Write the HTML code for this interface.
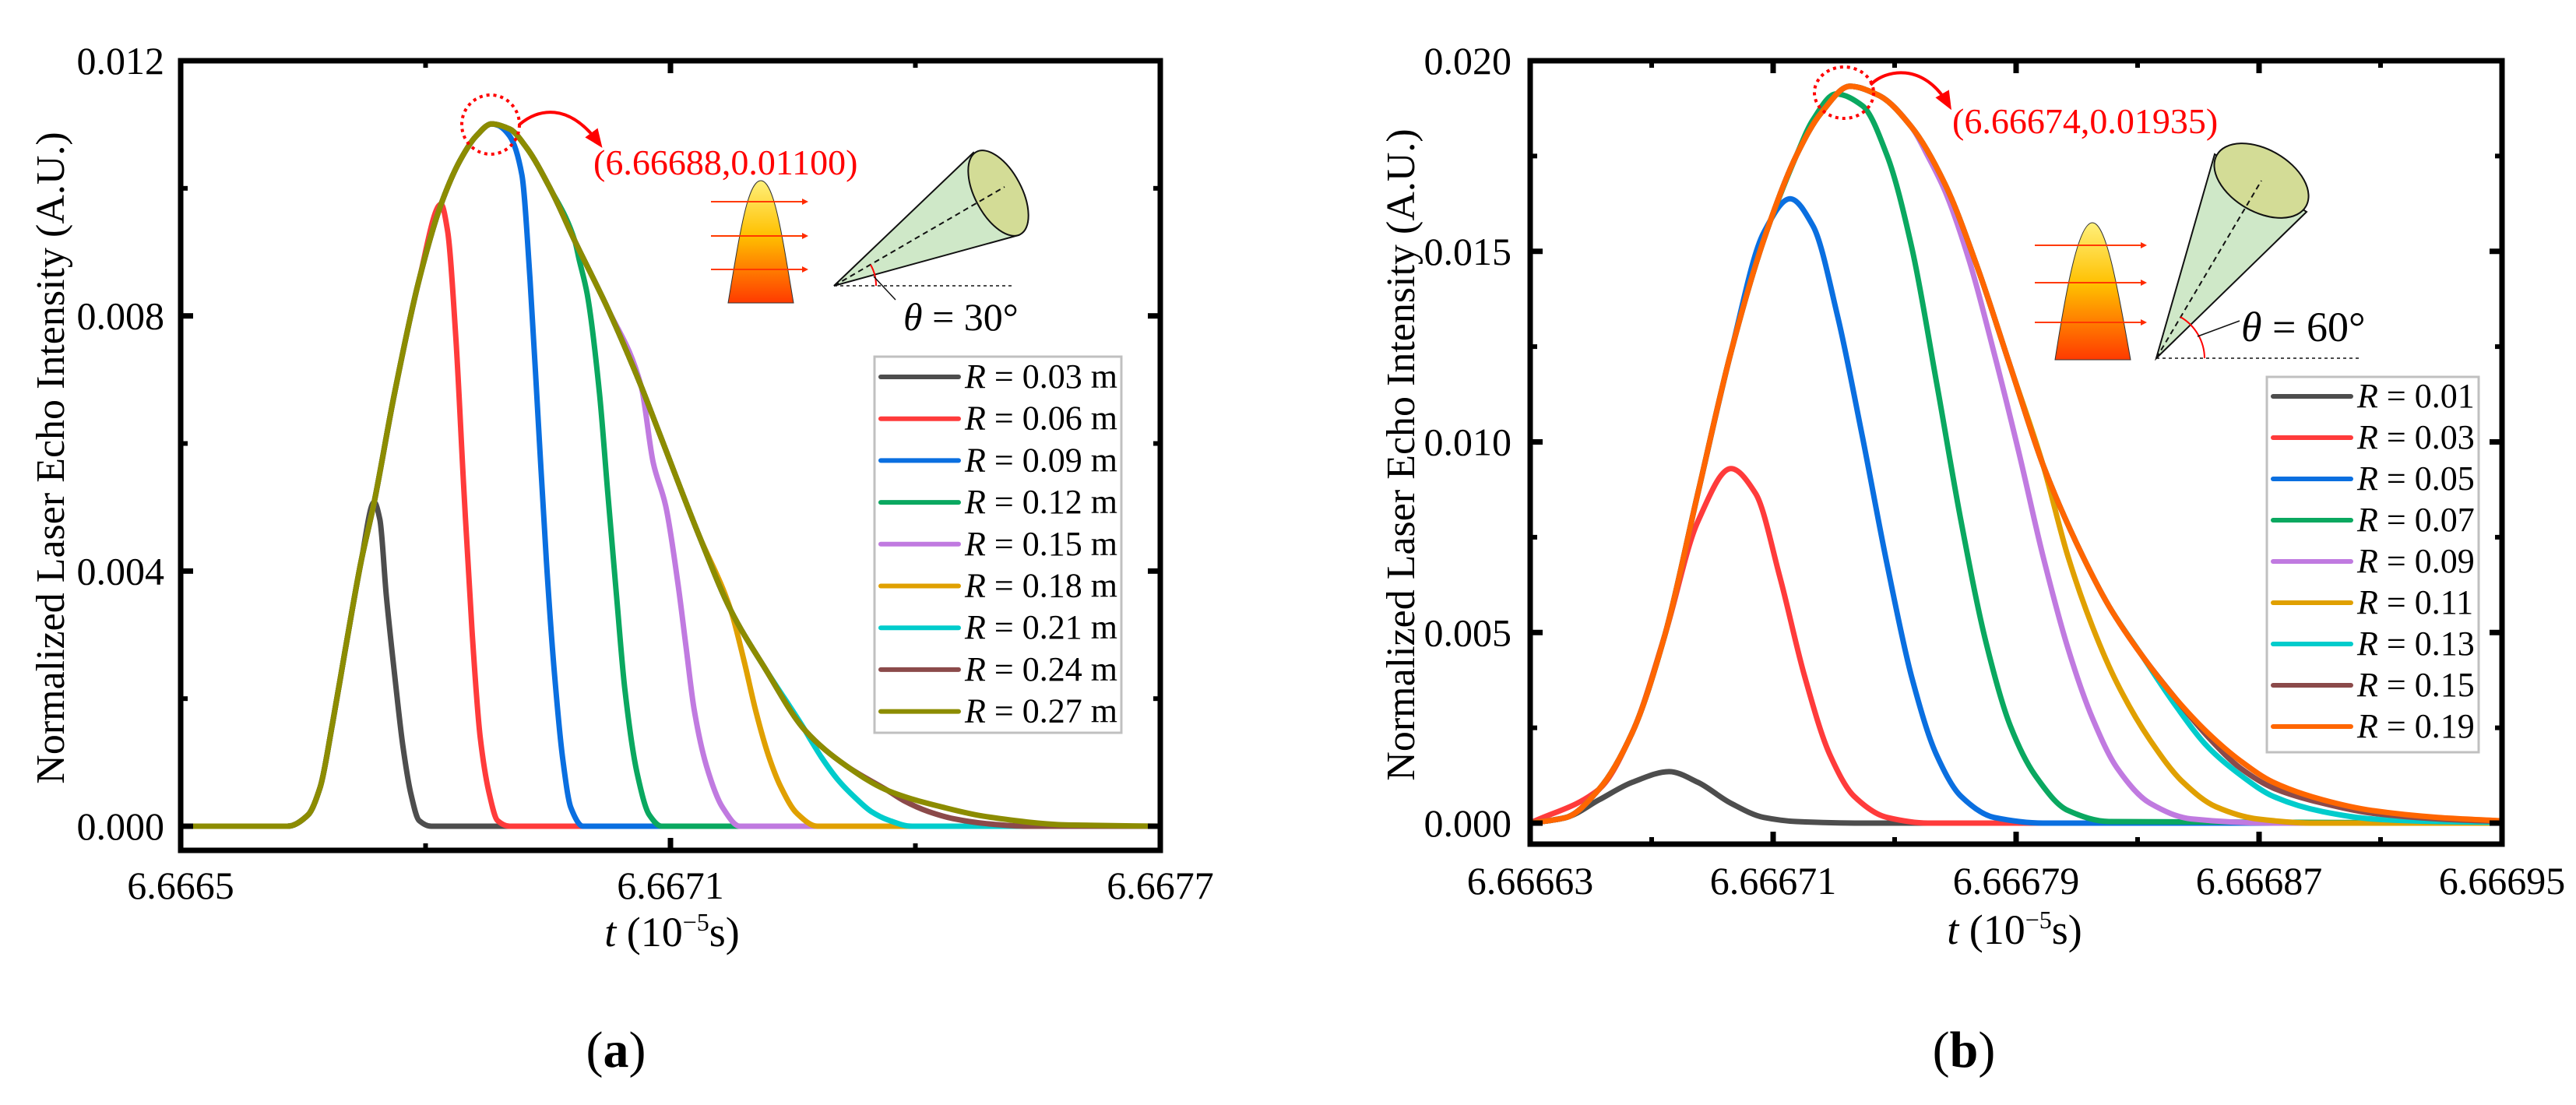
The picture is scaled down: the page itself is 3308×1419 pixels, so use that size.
<!DOCTYPE html>
<html><head><meta charset="utf-8">
<style>
html,body{margin:0;padding:0;background:#fff;}
svg, svg text{font-family:"Liberation Serif","Times New Roman",serif;}
</style></head>
<body>
<svg id="fig" width="3308" height="1414" viewBox="0 0 3308 1414" xmlns="http://www.w3.org/2000/svg" font-family="Liberation Serif, serif">
<defs>
<linearGradient id="beamGrad" x1="0" y1="0" x2="0" y2="1">
<stop offset="0" stop-color="#fff07a"/><stop offset="0.45" stop-color="#ffc000"/><stop offset="1" stop-color="#ff3a00"/>
</linearGradient>
<marker id="arrHead" markerWidth="8" markerHeight="8" refX="6" refY="4" orient="auto" markerUnits="userSpaceOnUse" viewBox="0 0 8 8"><path d="M0,0 L8,4 L0,8 z" fill="#ff2a00"/></marker>
<marker id="arrBig" markerWidth="24" markerHeight="24" refX="18" refY="12" orient="auto" markerUnits="userSpaceOnUse" viewBox="0 0 24 24"><path d="M0,2 L24,12 L0,22 z" fill="#ff0000"/></marker>
</defs>
<g id="chartA"></g>
<g id="chartB"></g>

<g>
<path d="M935,389 C950,300 960,232 977,232 C994,232 1004,300 1019,389 Z" fill="url(#beamGrad)" stroke="#333" stroke-width="1"/>
<line x1="913" y1="259" x2="1036" y2="259" stroke="#ff3a00" stroke-width="2" marker-end="url(#arrHead)"/>
<line x1="913" y1="303" x2="1036" y2="303" stroke="#ff3a00" stroke-width="2" marker-end="url(#arrHead)"/>
<line x1="913" y1="346" x2="1036" y2="346" stroke="#ff3a00" stroke-width="2" marker-end="url(#arrHead)"/>
<path d="M1071,367 L1250,196 L1308,302 Z" fill="#cfe8c8" stroke="#111" stroke-width="2"/>
<ellipse cx="1282" cy="248" rx="30" ry="60" transform="rotate(-28 1282 248)" fill="#d3dc96" stroke="#111" stroke-width="2"/>
<line x1="1071" y1="367" x2="1290" y2="240" stroke="#111" stroke-width="2" stroke-dasharray="7,5"/>
<line x1="1071" y1="367" x2="1300" y2="367" stroke="#111" stroke-width="1.5" stroke-dasharray="4,4"/>
<path d="M1125,367 A54,54 0 0 0 1118,340" fill="none" stroke="#ff0000" stroke-width="2"/>
<line x1="1122" y1="355" x2="1150" y2="385" stroke="#111" stroke-width="1.5"/>
<text x="1160" y="424" font-size="50" font-family="Liberation Serif, serif"><tspan font-style="italic">θ</tspan> = 30°</text>
</g>
<g>
<ellipse cx="630" cy="160" rx="37" ry="38" fill="none" stroke="#ff0000" stroke-width="4" stroke-dasharray="4,5"/>
<path d="M667,160 C690,140 730,130 770,185" fill="none" stroke="#ff0000" stroke-width="4" marker-end="url(#arrBig)"/>
<text x="762" y="224" font-size="46" fill="#ff0000" font-family="Liberation Serif, serif">(6.66688,0.01100)</text>
</g>

<g>
<path d="M2639,462 C2655,360 2670,286 2687,286 C2704,286 2718,360 2736,462 Z" fill="url(#beamGrad)" stroke="#333" stroke-width="1"/>
<line x1="2613" y1="315" x2="2755" y2="315" stroke="#ff3a00" stroke-width="2" marker-end="url(#arrHead)"/>
<line x1="2613" y1="363" x2="2755" y2="363" stroke="#ff3a00" stroke-width="2" marker-end="url(#arrHead)"/>
<line x1="2613" y1="414" x2="2755" y2="414" stroke="#ff3a00" stroke-width="2" marker-end="url(#arrHead)"/>
<path d="M2769,460 L2844,198 L2962,272 Z" fill="#cfe8c8" stroke="#111" stroke-width="2"/>
<ellipse cx="2904" cy="232" rx="66" ry="40" transform="rotate(30 2904 232)" fill="#d3dc96" stroke="#111" stroke-width="2"/>
<line x1="2769" y1="460" x2="2904" y2="232" stroke="#111" stroke-width="2" stroke-dasharray="7,5"/>
<line x1="2769" y1="460" x2="3032" y2="460" stroke="#111" stroke-width="1.5" stroke-dasharray="4,4"/>
<path d="M2831,460 A62,62 0 0 0 2800,407" fill="none" stroke="#ff0000" stroke-width="2"/>
<line x1="2822" y1="432" x2="2876" y2="412" stroke="#111" stroke-width="1.5"/>
<text x="2878" y="438" font-size="54" font-family="Liberation Serif, serif"><tspan font-style="italic">θ</tspan> = 60°</text>
</g>
<g>
<ellipse cx="2368" cy="119" rx="38" ry="33" fill="none" stroke="#ff0000" stroke-width="4" stroke-dasharray="4,5"/>
<path d="M2402,109 C2420,90 2470,78 2503,136" fill="none" stroke="#ff0000" stroke-width="4" marker-end="url(#arrBig)"/>
<text x="2507" y="171" font-size="46" fill="#ff0000" font-family="Liberation Serif, serif">(6.66674,0.01935)</text>
</g>

<text x="791" y="1370" font-size="66" text-anchor="middle" font-family="Liberation Serif, serif">(<tspan font-weight="bold">a</tspan>)</text>
<text x="2522" y="1370" font-size="66" text-anchor="middle" font-family="Liberation Serif, serif">(<tspan font-weight="bold">b</tspan>)</text>
</svg>

<script>
// ---------- Chart A data ----------
const aTicksX = ["6.6665", "6.6671", "6.6677"];
const aTickXVals = [6.6665, 6.6671, 6.6677];
const aTicksY = ["0.000", "0.004", "0.008", "0.012"];
const aTickYVals = [0, 0.004, 0.008, 0.012];
const aLabels = ["0.03", "0.06", "0.09", "0.12", "0.15", "0.18", "0.21", "0.24", "0.27"];
const aEnvT = [6.66650,6.666631,6.666656,6.666671,6.666686,6.666701,6.666721,6.666737,6.666762,6.666792,6.666819,6.666842,6.666862,6.666881,6.666903,6.666923,6.666953,6.666983,6.667023,6.667064,6.667084,6.667134,6.667174,6.667215,6.667265,6.667315,6.667366,6.667436,6.667487,6.667587,6.667700];
const aEnvV = [0,0,0.000176,0.000618,0.00161,0.00272,0.00415,0.00508,0.00679,0.00856,0.00975,0.01043,0.01082,0.01101,0.01093,0.01065,0.00999,0.00917,0.00812,0.00690,0.00624,0.00459,0.00338,0.00249,0.00150,0.00095,0.00056,0.00029,0.00015,0.00002,0];
const aTail0T = [6.666737,6.666744,6.666752,6.666762,6.666772,6.666782,6.666792,6.666807,6.6677];
const aTail0V = [0.00508,0.00481,0.00360,0.00238,0.00128,0.00051,0.00009,0,0];
const aTail1T = [6.666819,6.666827,6.666837,6.666847,6.666857,6.666867,6.666878,6.666888,6.666903,6.6677];
const aTail1V = [0.00975,0.00933,0.00767,0.00525,0.00304,0.00139,0.00051,0.00009,0,0];
const aTail2T = [6.666888,6.666903,6.666918,6.666928,6.666938,6.666948,6.666958,6.666968,6.666978,6.666993,6.6677];
const aTail2V = [0.01099,0.01082,0.01021,0.00856,0.00635,0.00415,0.00238,0.00106,0.00029,0,0];
const aTail3T = [6.666988,6.666998,6.667013,6.667023,6.667034,6.667044,6.667059,6.667074,6.667089,6.6677];
const aTail3V = [0.00889,0.00834,0.00679,0.00525,0.00360,0.00216,0.00084,0.00018,0,0];
const aTail4T = [6.667079,6.667094,6.667109,6.667119,6.667129,6.667144,6.667164,6.667185,6.6677];
const aTail4V = [0.00569,0.00503,0.00382,0.00282,0.00183,0.00095,0.00029,0,0];
const aTail5T = [6.667174,6.667190,6.667205,6.667220,6.667235,6.667255,6.667280,6.6677];
const aTail5V = [0.00338,0.00260,0.00178,0.00111,0.00062,0.00020,0,0];
const aTail6T = [6.667270,6.667285,6.667305,6.667326,6.667346,6.667366,6.667396,6.6677];
const aTail6V = [0.00139,0.00108,0.00073,0.00045,0.00023,0.00010,0,0];
const aTail7T = [6.667366,6.667386,6.667416,6.667446,6.667487,6.667537,6.6677];
const aTail7V = [0.00056,0.00040,0.00023,0.00012,0.00004,0,0];

// ---------- Chart B data ----------
const bTicksX = ["6.66663", "6.66671", "6.66679", "6.66687", "6.66695"];
const bTickXVals = [6.66663, 6.66671, 6.66679, 6.66687, 6.66695];
const bTicksY = ["0.000", "0.005", "0.010", "0.015", "0.020"];
const bTickYVals = [0, 0.005, 0.010, 0.015, 0.020];
const bLabels = ["0.01", "0.03", "0.05", "0.07", "0.09", "0.11", "0.13", "0.15", "0.19"];
const bEnvT = [6.6666300,6.6666419,6.6666527,6.6666636,6.6666744,6.6666852,6.6666961,6.6667069,6.6667177,6.6667258,6.6667353,6.6667448,6.6667556,6.6667665,6.6667773,6.6667881,6.6667989,6.6668098,6.6668206,6.6668314,6.6668423,6.6668531,6.6668639,6.6668747,6.6668910,6.6669072,6.6669289,6.66695];
const bEnvV = [0,0.00015,0.00089,0.00237,0.00495,0.00865,0.01235,0.01530,0.01752,0.01863,0.01933,0.01909,0.01826,0.01678,0.01457,0.01198,0.00939,0.00736,0.00569,0.00440,0.00329,0.00237,0.00163,0.00107,0.00061,0.00033,0.00015,0.00006];
const bTail0T = [6.6666300,6.6666419,6.6666527,6.6666636,6.6666758,6.6666852,6.6666961,6.6667069,6.6667177,6.6667394,6.66695];
const bTail0V = [0,0.00015,0.00061,0.00107,0.00135,0.00107,0.00052,0.00015,0.00004,0,0];
const bTail1T = [6.6666300,6.6666527,6.6666636,6.6666744,6.6666852,6.6666961,6.6667042,6.6667123,6.6667204,6.6667286,6.6667367,6.6667475,6.6667610,6.66695];
const bTail1V = [0,0.00089,0.00237,0.00495,0.00791,0.00930,0.00865,0.00643,0.00384,0.00181,0.00070,0.00015,0,0];
const bTail2T = [6.6666961,6.6667069,6.6667156,6.6667231,6.6667313,6.6667394,6.6667475,6.6667556,6.6667637,6.6667719,6.6667827,6.6667989,6.66695];
const bTail2V = [0.01235,0.01549,0.01638,0.01567,0.01327,0.01013,0.00680,0.00384,0.00181,0.00070,0.00015,0,0];
const bTail3T = [6.6667231,6.6667307,6.6667394,6.6667475,6.6667556,6.6667637,6.6667719,6.6667800,6.6667881,6.6667962,6.6668071,6.6668206,6.66695];
const bTail3V = [0.01845,0.01913,0.01882,0.01752,0.01512,0.01161,0.00791,0.00477,0.00255,0.00126,0.00033,0.00004,0];
const bTail4T = [6.6667610,6.6667665,6.6667746,6.6667827,6.6667908,6.6667989,6.6668071,6.6668152,6.6668233,6.6668341,6.6668477,6.6668747,6.66695];
const bTail4V = [0.01749,0.01660,0.01475,0.01235,0.00976,0.00699,0.00458,0.00274,0.00144,0.00052,0.00011,0,0];
const bTail5T = [6.6667989,6.6668071,6.6668152,6.6668233,6.6668341,6.6668450,6.6668558,6.6668693,6.6668883,6.66695];
const bTail5V = [0.00939,0.00699,0.00514,0.00366,0.00218,0.00107,0.00043,0.00011,0,0];
const bTail6T = [6.6668314,6.6668423,6.6668531,6.6668639,6.6668747,6.6668910,6.6669072,6.6669289,6.66695];
const bTail6V = [0.00440,0.00311,0.00200,0.00126,0.00070,0.00030,0.00011,0.00004,0.00002];
const bTail7T = [6.6668531,6.6668639,6.6668747,6.6668910,6.6669072,6.6669289,6.66695];
const bTail7V = [0.00227,0.00144,0.00092,0.00052,0.00026,0.00011,0.00004];

const colorsA = ["#4d4d4d","#ff3b3b","#0a6fe0","#0aa860","#c07ae0","#e0a000","#00cccc","#8b4a4a","#8c8c00"];
const colorsB = ["#4d4d4d","#ff3b3b","#0a6fe0","#0aa860","#c07ae0","#e0a000","#00cccc","#8b4a4a","#ff6600"];

const NS = "http://www.w3.org/2000/svg";
const FONT = "Liberation Serif, serif";
function mk(tag, attrs, parent) {
  const e = document.createElementNS(NS, tag);
  for (const k in attrs) e.setAttribute(k, attrs[k]);
  parent.appendChild(e);
  return e;
}
// monotone cubic (Fritsch-Carlson) path through points sorted by x
function monoPath(pts) {
  const n = pts.length;
  const dx = [], sl = [];
  for (let i = 0; i < n - 1; i++) {
    dx.push(pts[i + 1][0] - pts[i][0]);
    sl.push((pts[i + 1][1] - pts[i][1]) / dx[i]);
  }
  const m = new Array(n);
  m[0] = sl[0]; m[n - 1] = sl[n - 2];
  for (let i = 1; i < n - 1; i++) {
    if (sl[i - 1] * sl[i] <= 0) m[i] = 0;
    else {
      const w1 = 2 * dx[i] + dx[i - 1], w2 = dx[i] + 2 * dx[i - 1];
      m[i] = (w1 + w2) / (w1 / sl[i - 1] + w2 / sl[i]);
    }
  }
  let d = "M" + pts[0][0].toFixed(1) + "," + pts[0][1].toFixed(1);
  for (let i = 0; i < n - 1; i++) {
    const h = dx[i] / 3;
    d += " C" + (pts[i][0] + h).toFixed(1) + "," + (pts[i][1] + m[i] * h).toFixed(1) + " " +
      (pts[i + 1][0] - h).toFixed(1) + "," + (pts[i + 1][1] - m[i + 1] * h).toFixed(1) + " " +
      pts[i + 1][0].toFixed(1) + "," + pts[i + 1][1].toFixed(1);
  }
  return d;
}

function drawChart(cfg) {
  const g = document.getElementById(cfg.id);
  const xs = t => cfg.x0 + (t - cfg.t0) / (cfg.t1 - cfg.t0) * (cfg.x1 - cfg.x0);
  const ys = v => cfg.yZero + v / cfg.vMax * (cfg.yTop - cfg.yZero);
  const sg = mk("g", {}, g);
  
  
  const tails = cfg.tails;
  for (let i = 0; i < 9; i++) {
    let T, V;
    if (i < 8) {
      const tt = tails[i][0], vv = tails[i][1];
      T = []; V = [];
      for (let k = 0; k < cfg.envT.length; k++) if (cfg.envT[k] < tt[0]) { T.push(cfg.envT[k]); V.push(cfg.envV[k]); }
      T = T.concat(tt); V = V.concat(vv);
    } else { T = cfg.envT; V = cfg.envV; }
    const pts = T.map((t, k) => [xs(t), ys(V[k])]);
    const p = mk("path", { d: monoPath(pts), fill: "none", stroke: cfg.colors[i], "stroke-width": 7, "stroke-linejoin": "round", "stroke-linecap": "butt" }, sg);
    
    
  }
  const fr = mk("rect", { x: cfg.x0, y: cfg.yTop, width: cfg.x1 - cfg.x0, height: cfg.yBot - cfg.yTop, fill: "none", stroke: "#000", "stroke-width": 7 }, g);
  
  
  const tg = mk("g", {}, g);
  
  
  const xv = cfg.xTickVals;
  for (let i = 0; i < xv.length; i++) {
    const x = xs(xv[i]);
    mk("line", { x1: x, y1: cfg.yBot, x2: x, y2: cfg.yBot - 16, stroke: "#000", "stroke-width": 7 }, tg);
    mk("line", { x1: x, y1: cfg.yTop, x2: x, y2: cfg.yTop + 16, stroke: "#000", "stroke-width": 7 }, tg);
    if (i < xv.length - 1) {
      const xm = xs((xv[i] + xv[i + 1]) / 2);
      mk("line", { x1: xm, y1: cfg.yBot, x2: xm, y2: cfg.yBot - 9, stroke: "#000", "stroke-width": 6 }, tg);
      mk("line", { x1: xm, y1: cfg.yTop, x2: xm, y2: cfg.yTop + 9, stroke: "#000", "stroke-width": 6 }, tg);
    }
    const tx = mk("text", { x: x, y: cfg.xLabelY, "font-size": 50, "text-anchor": "middle", "font-family": FONT }, g);
    tx.textContent = cfg.xTicks[i];
    
    
  }
  const yv = cfg.yTickVals;
  for (let i = 0; i < yv.length; i++) {
    const y = ys(yv[i]);
    mk("line", { x1: cfg.x0, y1: y, x2: cfg.x0 + 16, y2: y, stroke: "#000", "stroke-width": 7 }, tg);
    mk("line", { x1: cfg.x1, y1: y, x2: cfg.x1 - 16, y2: y, stroke: "#000", "stroke-width": 7 }, tg);
    if (i < yv.length - 1) {
      const ym = ys((yv[i] + yv[i + 1]) / 2);
      mk("line", { x1: cfg.x0, y1: ym, x2: cfg.x0 + 9, y2: ym, stroke: "#000", "stroke-width": 6 }, tg);
      mk("line", { x1: cfg.x1, y1: ym, x2: cfg.x1 - 9, y2: ym, stroke: "#000", "stroke-width": 6 }, tg);
    }
    const ty = mk("text", { x: cfg.yLabelX, y: y + 17, "font-size": 50, "text-anchor": "end", "font-family": FONT }, g);
    ty.textContent = cfg.yTicks[i];
    
    
  }
  const yt = mk("text", { x: 0, y: 0, "font-size": 52, "text-anchor": "middle", "font-family": FONT, transform: "translate(" + cfg.yTitleX + "," + cfg.yTitleY + ") rotate(-90)" }, g);
  yt.textContent = "Normalized Laser Echo Intensity (A.U.)";
  
  
  const xt = mk("text", { x: cfg.xTitleX, y: cfg.xTitleY, "font-size": 54, "text-anchor": "middle", "font-family": FONT }, g);
  xt.innerHTML = '<tspan font-style="italic">t</tspan> (10<tspan font-size="32" dy="-20">−5</tspan><tspan dy="20">s)</tspan>';
  
  
  const lg = mk("g", {}, g);
  
  
  mk("rect", { x: cfg.lgX, y: cfg.lgY, width: cfg.lgW, height: cfg.lgH, fill: "#fff", stroke: "#c0c0c0", "stroke-width": 3 }, lg);
  for (let i = 0; i < 9; i++) {
    const ry = cfg.lgRow0 + i * cfg.lgStep;
    const en = mk("g", {}, lg);
    
    
    mk("line", { x1: cfg.lgX + 8, y1: ry, x2: cfg.lgX + 108, y2: ry, stroke: cfg.colors[i], "stroke-width": 6, "stroke-linecap": "round" }, en);
    const lt = mk("text", { x: cfg.lgX + 116, y: ry + 14, "font-size": 44, "font-family": FONT }, en);
    lt.innerHTML = '<tspan font-style="italic">R</tspan> = ' + cfg.labels[i] + cfg.unit;
  }
}

drawChart({
  id: "chartA", x0: 232, x1: 1490, yTop: 78, yBot: 1092, yZero: 1061, t0: 6.6665, t1: 6.6677, vMax: 0.012,
  envT: aEnvT, envV: aEnvV,
  tails: [[aTail0T,aTail0V],[aTail1T,aTail1V],[aTail2T,aTail2V],[aTail3T,aTail3V],[aTail4T,aTail4V],[aTail5T,aTail5V],[aTail6T,aTail6V],[aTail7T,aTail7V]],
  colors: colorsA, labels: aLabels, unit: " m",
  xTicks: aTicksX, xTickVals: aTickXVals, yTicks: aTicksY, yTickVals: aTickYVals,
  xLabelY: 1154, yLabelX: 211, yTitleX: 82, yTitleY: 588, xTitleX: 863, xTitleY: 1215,
  lgX: 1123, lgY: 458, lgW: 317, lgH: 483, lgRow0: 484, lgStep: 53.7
});
drawChart({
  id: "chartB", x0: 1965, x1: 3213, yTop: 78, yBot: 1084, yZero: 1057, t0: 6.66663, t1: 6.66695, vMax: 0.020,
  envT: bEnvT, envV: bEnvV,
  tails: [[bTail0T,bTail0V],[bTail1T,bTail1V],[bTail2T,bTail2V],[bTail3T,bTail3V],[bTail4T,bTail4V],[bTail5T,bTail5V],[bTail6T,bTail6V],[bTail7T,bTail7V]],
  colors: colorsB, labels: bLabels, unit: "",
  xTicks: bTicksX, xTickVals: bTickXVals, yTicks: bTicksY, yTickVals: bTickYVals,
  xLabelY: 1148, yLabelX: 1941, yTitleX: 1816, yTitleY: 584, xTitleX: 2587, xTitleY: 1212,
  lgX: 2911, lgY: 484, lgW: 272, lgH: 482, lgRow0: 509, lgStep: 53
});
</script>
</body></html>
